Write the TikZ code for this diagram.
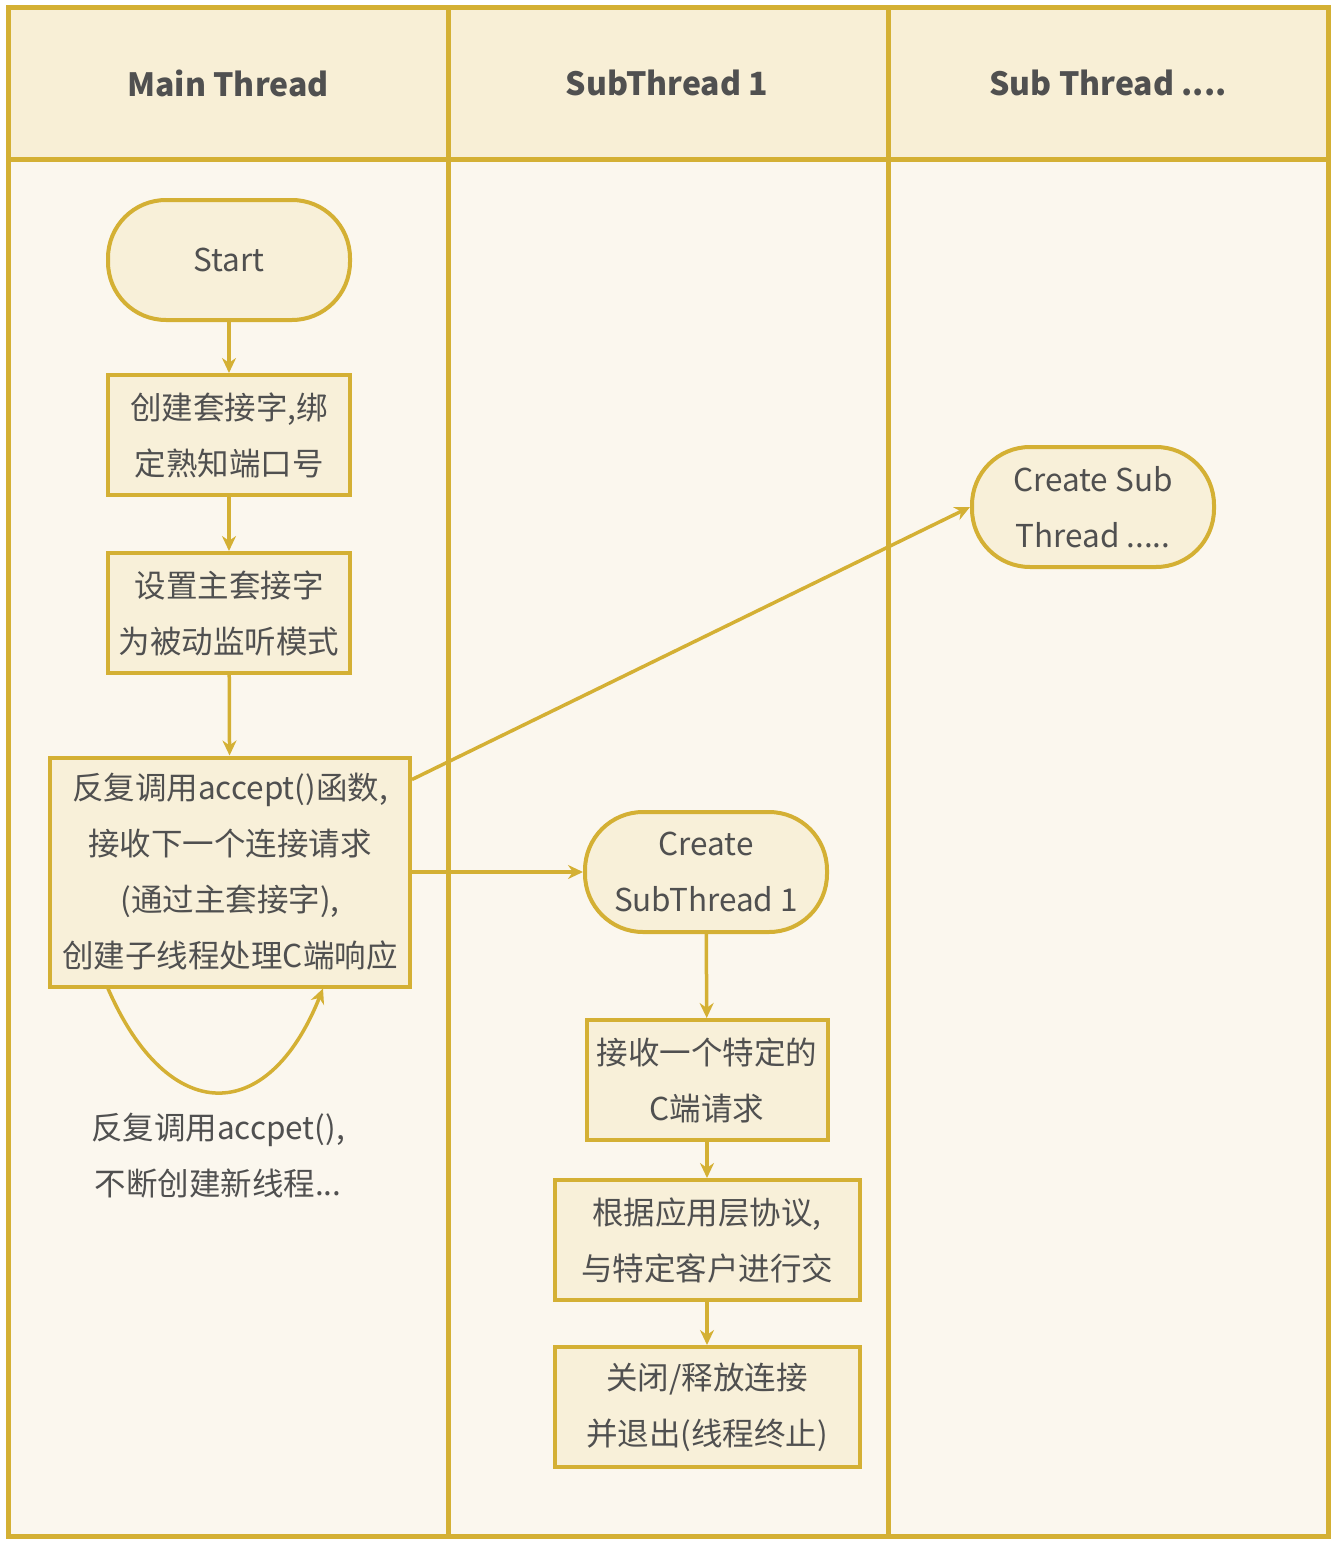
\documentclass[tikz,border=0pt]{standalone}
\usepackage{fontspec}
\setmainfont{Noto Sans CJK SC}
\usetikzlibrary{arrows.meta,calc}
\definecolor{gold}{RGB}{212,176,52}
\definecolor{headfill}{RGB}{248,239,214}
\definecolor{bodyfill}{RGB}{251,247,238}
\definecolor{nodefill}{RGB}{248,240,217}
\definecolor{txt}{RGB}{80,80,80}
\tikzset{
  boxnode/.style={draw=gold, line width=4pt, fill=nodefill, text=txt, align=center,
    inner sep=0pt, font=\fontsize{31.5}{56}\selectfont},
  termnode/.style={boxnode, rounded corners=58pt, minimum width=242pt, minimum height=120pt},
  headnode/.style={text=txt, font=\fontsize{32}{40}\selectfont\bfseries},
  plainlabel/.style={text=txt, align=center, font=\fontsize{31.5}{56}\selectfont},
  arr/.style={draw=gold, line width=3.5pt, -{Stealth[length=15pt,width=14pt]}},
  frame/.style={draw=gold, line width=5pt}
}
\begin{document}
\begin{tikzpicture}[x=1pt,y=-1pt]
\useasboundingbox (0,0) rectangle (1337,1544);
\fill[white] (0,0) rectangle (1337,1544);
% lanes
\fill[bodyfill] (8,8) rectangle (1328,1536);
\fill[headfill] (8,8) rectangle (1328,159);
\draw[frame] (8,8) rectangle (1328,1536);
\draw[frame] (8,159) -- (1328,159);
\draw[frame] (448,8) -- (448,1536);
\draw[frame] (888,8) -- (888,1536);
\node[headnode] (h1) at (228,83) {Main Thread};
\node[headnode] (h2) at (667,83) {SubThread 1};
\node[headnode] (h3) at (1108,83) {Sub Thread ....};
% main thread
\node[termnode] (start) at (229,260) {Start};
\node[boxnode, minimum width=242pt, minimum height=120pt] (b1) at (229,435) {创建套接字,绑\\定熟知端口号};
\node[boxnode, minimum width=242pt, minimum height=120pt] (b2) at (229,613) {设置主套接字\\为被动监听模式};
\node[boxnode, minimum width=360pt, minimum height=229pt] (b3) at (230,872) {反复调用accept()函数,\\接收下一个连接请求\\(通过主套接字),\\创建子线程处理C端响应};
\node[plainlabel] (lbl) at (218,1156) {反复调用accpet(),\\不断创建新线程...};
% sub thread 1
\node[termnode] (cs1) at (706,872) {Create\\SubThread 1};
\node[boxnode, minimum width=241pt, minimum height=120pt] (b4) at (707,1080) {接收一个特定的\\C端请求};
\node[boxnode, minimum width=305pt, minimum height=120pt] (b5) at (707,1240) {根据应用层协议,\\与特定客户进行交};
\node[boxnode, minimum width=305pt, minimum height=120pt] (b6) at (707,1407) {关闭/释放连接\\并退出(线程终止)};
% sub thread ...
\node[termnode] (csn) at (1093,507) {Create Sub\\Thread .....};
% connectors
\draw[arr] (start) -- (b1);
\draw[arr] (b1) -- (b2);
\draw[arr] (b2) -- (b3);
\draw[arr] (b3.east) -- (cs1.west);
\coordinate (b3up) at ($(b3.north east)+(0,24)$);
\draw[arr] (b3up) -- (csn.west);
\draw[arr] (cs1) -- (b4);
\draw[arr] (b4) -- (b5);
\draw[arr] (b5) -- (b6);
\coordinate (loopA) at ($(b3.south west)+(60,0)$);
\coordinate (loopB) at ($(b3.south west)+(275,0)$);
\draw[arr] (loopA) .. controls ($(loopA)+(60,138)$) and ($(loopB)+(-55,138)$) .. (loopB);
\end{tikzpicture}
\end{document}
